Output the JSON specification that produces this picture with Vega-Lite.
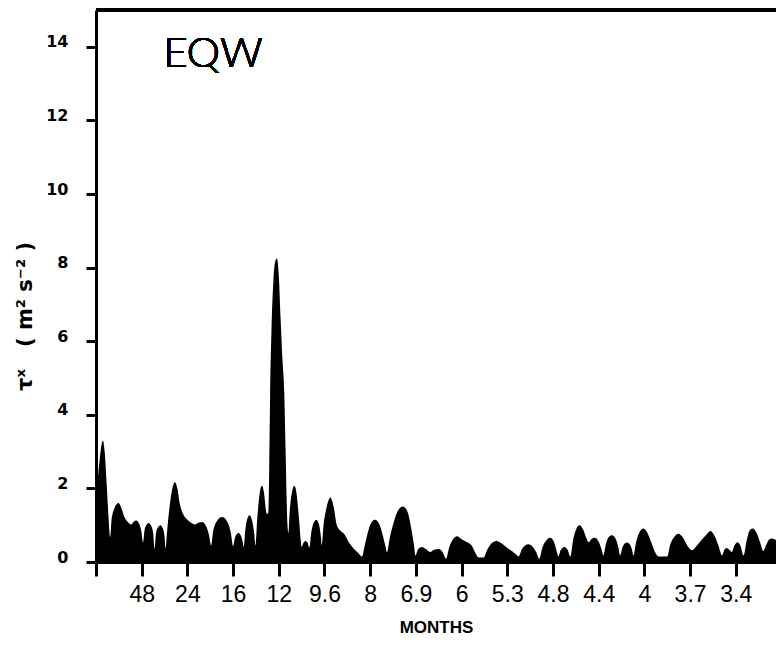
{
  "$schema": "https://vega.github.io/schema/vega-lite/v6.json",
  "width": 680,
  "height": 552,
  "autosize": "none",
  "padding": {"left": 96, "top": 10, "right": 0, "bottom": 86},
  "background": "white",
  "config": {
    "view": {"stroke": null},
    "axis": {"domainColor": "black", "domainWidth": 3, "tickColor": "black", "tickWidth": 3, "grid": false, "labelColor": "black", "titleColor": "black"}
  },
  "data": {
    "values": [
      {"f": 0.00, "v": 2.0}, {"f": 0.05, "v": 2.4}, {"f": 0.10, "v": 3.0}, {"f": 0.15, "v": 3.3}, {"f": 0.19, "v": 3.0},
      {"f": 0.23, "v": 2.2}, {"f": 0.27, "v": 1.3}, {"f": 0.31, "v": 0.68},
      {"f": 0.34, "v": 1.15}, {"f": 0.40, "v": 1.45}, {"f": 0.49, "v": 1.6}, {"f": 0.56, "v": 1.45}, {"f": 0.63, "v": 1.2},
      {"f": 0.70, "v": 1.08}, {"f": 0.77, "v": 1.02}, {"f": 0.83, "v": 1.1}, {"f": 0.88, "v": 1.13}, {"f": 0.94, "v": 1.05},
      {"f": 0.99, "v": 0.85}, {"f": 1.03, "v": 0.54},
      {"f": 1.06, "v": 0.85}, {"f": 1.10, "v": 1.0}, {"f": 1.15, "v": 1.06}, {"f": 1.20, "v": 1.0}, {"f": 1.25, "v": 0.8}, {"f": 1.28, "v": 0.37},
      {"f": 1.31, "v": 0.75}, {"f": 1.35, "v": 0.93}, {"f": 1.41, "v": 1.0}, {"f": 1.46, "v": 0.92}, {"f": 1.50, "v": 0.7}, {"f": 1.52, "v": 0.37},
      {"f": 1.56, "v": 0.9}, {"f": 1.62, "v": 1.6}, {"f": 1.68, "v": 2.05}, {"f": 1.73, "v": 2.17}, {"f": 1.78, "v": 2.0},
      {"f": 1.84, "v": 1.55}, {"f": 1.92, "v": 1.27}, {"f": 2.00, "v": 1.15}, {"f": 2.06, "v": 1.09}, {"f": 2.17, "v": 1.02},
      {"f": 2.25, "v": 1.07}, {"f": 2.32, "v": 1.09}, {"f": 2.40, "v": 1.0}, {"f": 2.47, "v": 0.75}, {"f": 2.52, "v": 0.45},
      {"f": 2.56, "v": 0.8}, {"f": 2.64, "v": 1.1}, {"f": 2.76, "v": 1.22}, {"f": 2.87, "v": 1.1}, {"f": 2.95, "v": 0.8}, {"f": 3.00, "v": 0.43},
      {"f": 3.04, "v": 0.65}, {"f": 3.08, "v": 0.76}, {"f": 3.12, "v": 0.79}, {"f": 3.17, "v": 0.72}, {"f": 3.21, "v": 0.55}, {"f": 3.23, "v": 0.41},
      {"f": 3.27, "v": 0.9}, {"f": 3.31, "v": 1.17}, {"f": 3.36, "v": 1.27}, {"f": 3.41, "v": 1.15}, {"f": 3.46, "v": 0.8}, {"f": 3.49, "v": 0.45},
      {"f": 3.53, "v": 1.2}, {"f": 3.58, "v": 1.85}, {"f": 3.63, "v": 2.07}, {"f": 3.68, "v": 1.85}, {"f": 3.72, "v": 1.4}, {"f": 3.74, "v": 1.3},
      {"f": 3.77, "v": 1.35}, {"f": 3.79, "v": 2.5}, {"f": 3.81, "v": 4.5}, {"f": 3.84, "v": 6.3}, {"f": 3.88, "v": 7.6},
      {"f": 3.93, "v": 8.2}, {"f": 3.96, "v": 8.25}, {"f": 4.00, "v": 7.8}, {"f": 4.04, "v": 6.6}, {"f": 4.08, "v": 5.5},
      {"f": 4.12, "v": 4.6}, {"f": 4.15, "v": 3.0}, {"f": 4.17, "v": 1.8}, {"f": 4.19, "v": 1.0}, {"f": 4.21, "v": 0.78},
      {"f": 4.24, "v": 1.4}, {"f": 4.29, "v": 1.9}, {"f": 4.34, "v": 2.07}, {"f": 4.39, "v": 1.85}, {"f": 4.44, "v": 1.2}, {"f": 4.48, "v": 0.6}, {"f": 4.50, "v": 0.41},
      {"f": 4.54, "v": 0.52}, {"f": 4.58, "v": 0.57}, {"f": 4.63, "v": 0.52}, {"f": 4.67, "v": 0.39},
      {"f": 4.71, "v": 0.8}, {"f": 4.76, "v": 1.05}, {"f": 4.82, "v": 1.15}, {"f": 4.88, "v": 1.02}, {"f": 4.92, "v": 0.7}, {"f": 4.94, "v": 0.45},
      {"f": 4.98, "v": 1.0}, {"f": 5.05, "v": 1.5}, {"f": 5.13, "v": 1.75}, {"f": 5.20, "v": 1.5}, {"f": 5.27, "v": 1.0},
      {"f": 5.34, "v": 0.86}, {"f": 5.45, "v": 0.73}, {"f": 5.55, "v": 0.5}, {"f": 5.64, "v": 0.36}, {"f": 5.73, "v": 0.25}, {"f": 5.82, "v": 0.15},
      {"f": 5.88, "v": 0.45}, {"f": 5.97, "v": 0.9}, {"f": 6.04, "v": 1.1}, {"f": 6.11, "v": 1.15}, {"f": 6.19, "v": 1.05},
      {"f": 6.27, "v": 0.75}, {"f": 6.33, "v": 0.45}, {"f": 6.37, "v": 0.27},
      {"f": 6.42, "v": 0.6}, {"f": 6.52, "v": 1.1}, {"f": 6.62, "v": 1.42}, {"f": 6.72, "v": 1.51}, {"f": 6.82, "v": 1.35},
      {"f": 6.90, "v": 0.9}, {"f": 6.96, "v": 0.45}, {"f": 6.99, "v": 0.18},
      {"f": 7.05, "v": 0.35}, {"f": 7.13, "v": 0.41}, {"f": 7.22, "v": 0.35}, {"f": 7.31, "v": 0.27}, {"f": 7.40, "v": 0.33},
      {"f": 7.50, "v": 0.35}, {"f": 7.58, "v": 0.28}, {"f": 7.66, "v": 0.09},
      {"f": 7.73, "v": 0.4}, {"f": 7.82, "v": 0.63}, {"f": 7.90, "v": 0.70}, {"f": 8.00, "v": 0.62}, {"f": 8.12, "v": 0.54},
      {"f": 8.22, "v": 0.45}, {"f": 8.30, "v": 0.25}, {"f": 8.37, "v": 0.12}, {"f": 8.48, "v": 0.12},
      {"f": 8.57, "v": 0.35}, {"f": 8.67, "v": 0.52}, {"f": 8.77, "v": 0.57}, {"f": 8.88, "v": 0.5}, {"f": 9.00, "v": 0.38},
      {"f": 9.10, "v": 0.30}, {"f": 9.18, "v": 0.22}, {"f": 9.25, "v": 0.15},
      {"f": 9.32, "v": 0.35}, {"f": 9.39, "v": 0.45}, {"f": 9.46, "v": 0.48}, {"f": 9.55, "v": 0.42}, {"f": 9.64, "v": 0.25}, {"f": 9.70, "v": 0.09},
      {"f": 9.77, "v": 0.4}, {"f": 9.86, "v": 0.6}, {"f": 9.94, "v": 0.66}, {"f": 10.02, "v": 0.55}, {"f": 10.08, "v": 0.3}, {"f": 10.12, "v": 0.15},
      {"f": 10.17, "v": 0.33}, {"f": 10.25, "v": 0.41}, {"f": 10.32, "v": 0.33}, {"f": 10.38, "v": 0.15},
      {"f": 10.44, "v": 0.6}, {"f": 10.51, "v": 0.9}, {"f": 10.58, "v": 1.0}, {"f": 10.66, "v": 0.88}, {"f": 10.73, "v": 0.65},
      {"f": 10.78, "v": 0.54}, {"f": 10.85, "v": 0.63}, {"f": 10.92, "v": 0.66}, {"f": 11.00, "v": 0.55}, {"f": 11.06, "v": 0.35}, {"f": 11.10, "v": 0.18},
      {"f": 11.16, "v": 0.5}, {"f": 11.22, "v": 0.68}, {"f": 11.29, "v": 0.73}, {"f": 11.36, "v": 0.66}, {"f": 11.43, "v": 0.4}, {"f": 11.47, "v": 0.18},
      {"f": 11.52, "v": 0.4}, {"f": 11.57, "v": 0.5}, {"f": 11.62, "v": 0.53}, {"f": 11.68, "v": 0.48}, {"f": 11.73, "v": 0.33}, {"f": 11.76, "v": 0.18},
      {"f": 11.82, "v": 0.55}, {"f": 11.90, "v": 0.82}, {"f": 11.98, "v": 0.91}, {"f": 12.07, "v": 0.78}, {"f": 12.16, "v": 0.5},
      {"f": 12.24, "v": 0.25}, {"f": 12.31, "v": 0.15}, {"f": 12.50, "v": 0.15},
      {"f": 12.56, "v": 0.45}, {"f": 12.65, "v": 0.68}, {"f": 12.75, "v": 0.77}, {"f": 12.85, "v": 0.65}, {"f": 12.95, "v": 0.42},
      {"f": 13.04, "v": 0.32}, {"f": 13.15, "v": 0.45}, {"f": 13.26, "v": 0.61}, {"f": 13.36, "v": 0.75}, {"f": 13.45, "v": 0.84},
      {"f": 13.53, "v": 0.72}, {"f": 13.62, "v": 0.45}, {"f": 13.70, "v": 0.18},
      {"f": 13.75, "v": 0.33}, {"f": 13.80, "v": 0.38}, {"f": 13.86, "v": 0.33}, {"f": 13.91, "v": 0.27}, {"f": 13.97, "v": 0.45},
      {"f": 14.04, "v": 0.54}, {"f": 14.10, "v": 0.45}, {"f": 14.17, "v": 0.18},
      {"f": 14.24, "v": 0.6}, {"f": 14.30, "v": 0.85}, {"f": 14.37, "v": 0.91}, {"f": 14.45, "v": 0.8}, {"f": 14.54, "v": 0.5},
      {"f": 14.60, "v": 0.30}, {"f": 14.66, "v": 0.45}, {"f": 14.72, "v": 0.6}, {"f": 14.79, "v": 0.64}, {"f": 14.88, "v": 0.6}
    ]
  },
  "layer": [
    {
      "mark": {"type": "area", "color": "black", "interpolate": "monotone", "clip": true},
      "encoding": {
        "x": {
          "field": "f", "type": "quantitative",
          "scale": {"domain": [0, 14.88], "nice": false, "zero": false},
          "axis": {
            "values": [0, 1, 2, 3, 4, 5, 6, 7, 8, 9, 10, 11, 12, 13, 14],
            "labelExpr": "['', '48', '24', '16', '12', '9.6', '8', '6.9', '6', '5.3', '4.8', '4.4', '4', '3.7', '3.4'][datum.value]",
            "labelFont": "Liberation Sans", "labelFontSize": 23, "labelPadding": 7,
            "labelFlush": false, "labelOverlap": false, "tickSize": 14,
            "title": "MONTHS", "titleFont": "Liberation Sans",
            "titleFontWeight": "bold", "titleFontSize": 17, "titlePadding": 13
          }
        },
        "y": {
          "field": "v", "type": "quantitative",
          "scale": {"domain": [0, 15], "nice": false},
          "axis": {
            "values": [0, 2, 4, 6, 8, 10, 12, 14],
            "labelFont": "DejaVu Sans", "labelFontWeight": "bold", "labelFontSize": 16,
            "labelBaseline": "alphabetic", "labelPadding": 18, "tickSize": 10,
            "title": "τˣ\u00a0\u00a0\u00a0(\u00a0m²\u00a0s⁻²\u00a0)", "titleFont": "DejaVu Sans", "titleFontWeight": "bold", "titleFontSize": 21,
            "titleX": -71, "titleY": 306, "titleAngle": -90, "titleAlign": "center", "titleBaseline": "middle"
          }
        }
      }
    },
    {
      "mark": {"type": "rule", "color": "black", "strokeWidth": 4},
      "encoding": {"y": {"datum": 15, "type": "quantitative"}}
    },
    {
      "mark": {"type": "text", "text": "EQW", "font": "Lato", "fontWeight": 300, "fontSize": 42, "align": "left", "baseline": "alphabetic", "color": "black"},
      "encoding": {
        "x": {"datum": 1.47, "type": "quantitative"},
        "y": {"datum": 13.45, "type": "quantitative"}
      }
    }
  ]
}
